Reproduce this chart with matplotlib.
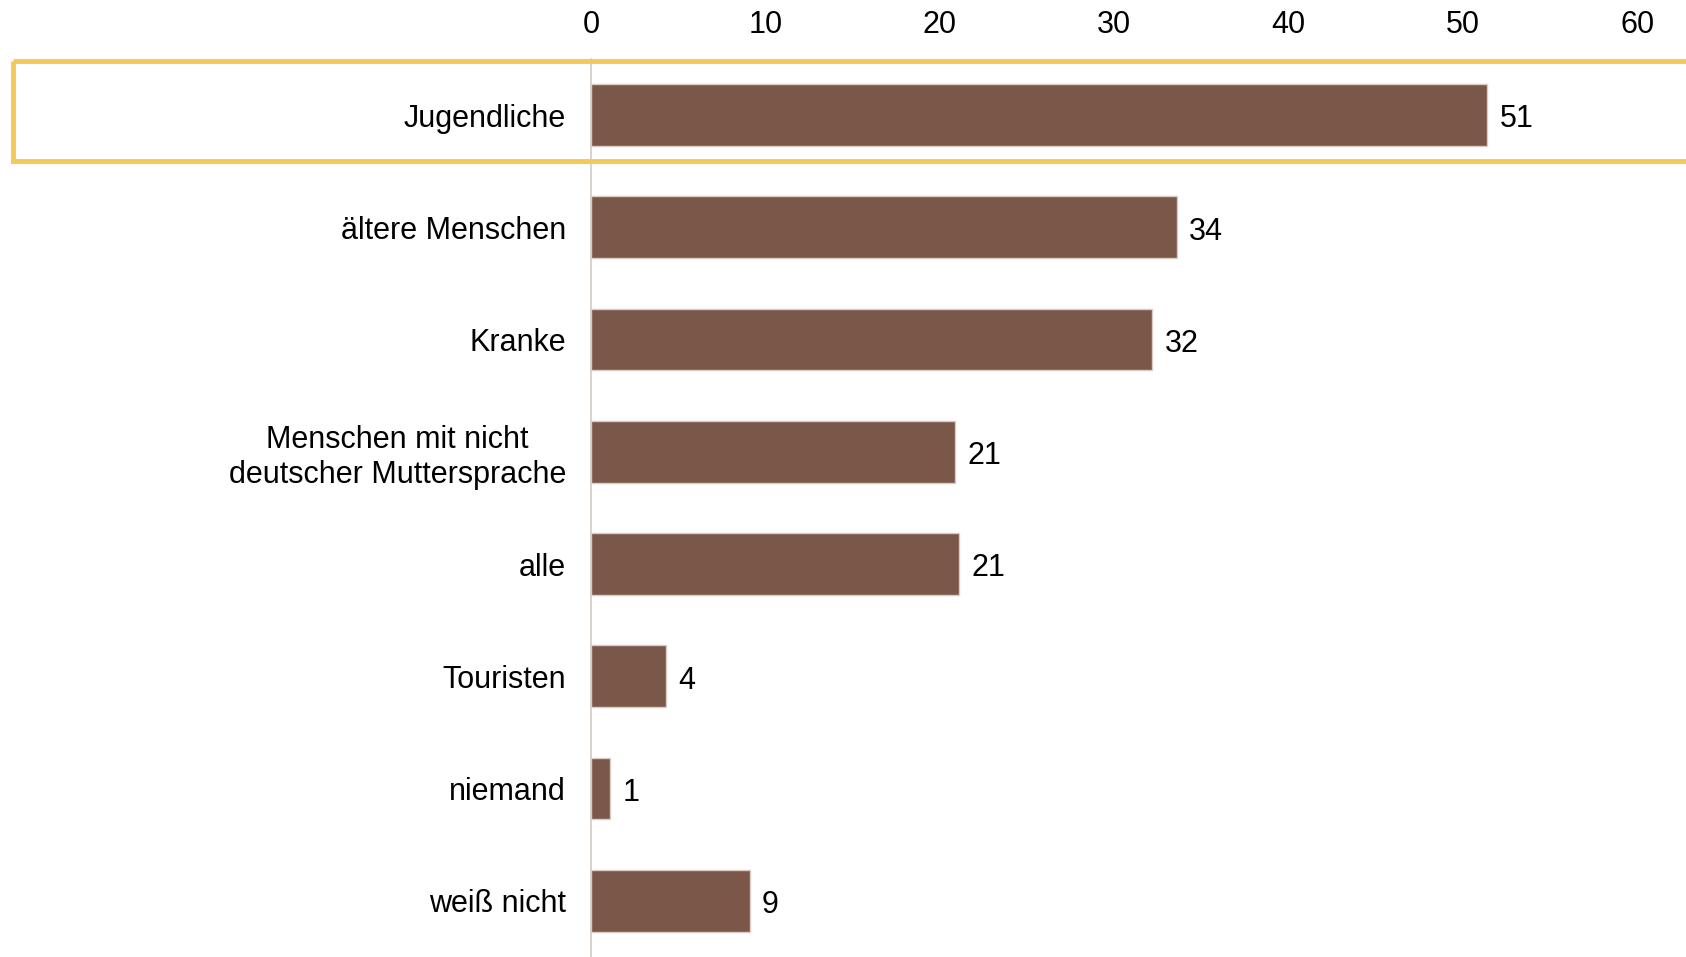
import matplotlib
matplotlib.use("Agg")
import matplotlib.pyplot as plt
from matplotlib.patches import Rectangle
import matplotlib.transforms as mtransforms

plt.rcParams['font.family'] = ['Liberation Sans', 'DejaVu Sans']

categories = ["Jugendliche", "ältere Menschen", "Kranke",
              "Menschen mit nicht\ndeutscher Muttersprache", "alle",
              "Touristen", "niemand", "weiß nicht"]
values = [51.4, 33.6, 32.2, 20.9, 21.1, 4.3, 1.1, 9.1]
xticks = [0, 10, 20, 30, 40, 50, 60]

bar_color = "#7A5749"
axis_color = "#D3CAC3"
box_color = "#F2C95A"

fig = plt.figure(figsize=(16.86, 9.57), dpi=100)
ax = fig.add_axes([0.3505, 0.0, 0.6495, 0.9384])

y = list(range(len(categories)))
ax.barh(y, values, height=0.55, color=bar_color, edgecolor="#D8CCC4", linewidth=1)

for yi, v in zip(y, values):
    ax.annotate(f"{v:.0f}", xy=(v, yi), xytext=(9, -3), textcoords="offset points",
                va="center", ha="left", fontsize=22, color="black")

ax.set_xlim(0, 62.8)
ax.set_ylim(len(categories) - 0.5, -0.5)

ax.xaxis.tick_top()
ax.set_xticks(xticks)
ax.set_xticklabels([str(t) for t in xticks])
ax.tick_params(axis="x", length=0, pad=14, labelsize=22)
ax.set_yticks(y)
ax.set_yticklabels(categories, fontsize=22, multialignment="center")
ax.tick_params(axis="y", length=0, pad=18)

for side in ["top", "right", "bottom"]:
    ax.spines[side].set_visible(False)
ax.spines["left"].set_color(axis_color)
ax.spines["left"].set_linewidth(1.2)

# highlight frame around the first row, from the left edge of the figure
trans = mtransforms.blended_transform_factory(fig.transFigure, ax.transData)
ax.add_patch(Rectangle((0.0077, -0.48), 1.1, 0.89, transform=trans,
                       fill=False, edgecolor=box_color, linewidth=3.5,
                       clip_on=False, zorder=5))

fig.savefig("out.png", dpi=100)
